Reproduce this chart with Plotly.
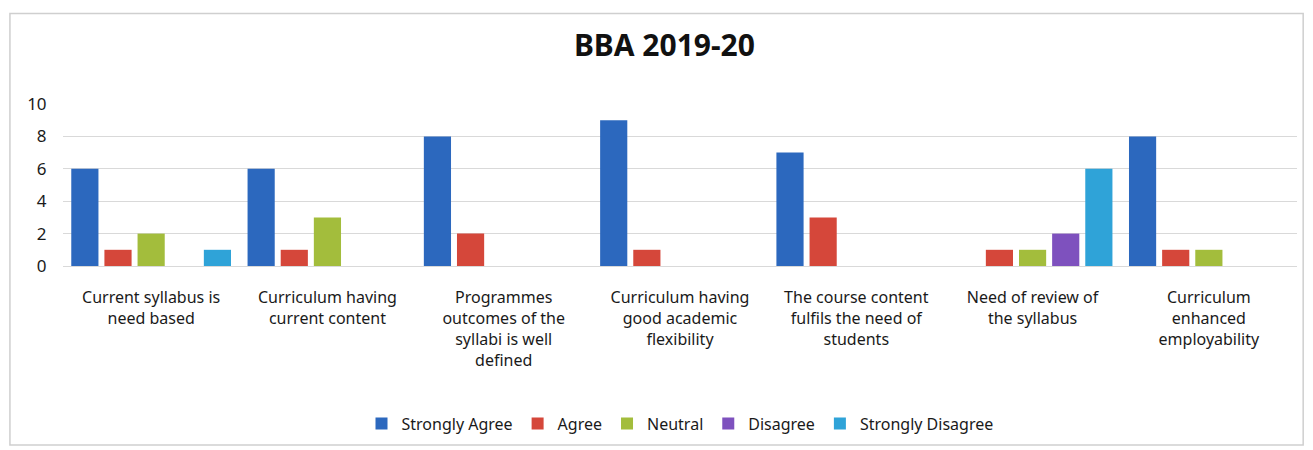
import plotly.graph_objects as go

categories = [
    "Current syllabus is<br>need based",
    "Curriculum having<br>current content",
    "Programmes<br>outcomes of the<br>syllabi is well<br>defined",
    "Curriculum having<br>good academic<br>flexibility",
    "The course content<br>fulfils the need of<br>students",
    "Need of review of<br>the syllabus",
    "Curriculum<br>enhanced<br>employability",
]
strongly_agree = [6, 6, 8, 9, 7, 0, 8]
agree = [1, 1, 2, 1, 3, 1, 1]
neutral = [2, 3, 0, 0, 0, 1, 1]
disagree = [0, 0, 0, 0, 0, 2, 0]
strongly_disagree = [1, 0, 0, 0, 0, 6, 0]

series = [
    ("Strongly Agree", strongly_agree, "#2C68BE"),
    ("Agree", agree, "#D5473A"),
    ("Neutral", neutral, "#A3BD3C"),
    ("Disagree", disagree, "#7E51BE"),
    ("Strongly Disagree", strongly_disagree, "#2FA3D8"),
]

font = "Noto Sans"

fig = go.Figure()
for name, vals, color in series:
    fig.add_trace(go.Bar(
        x=categories, y=vals, name=name,
        marker=dict(color=color, line=dict(width=0)),
    ))

# page body has an 8px margin, so the figure is drawn 8px smaller
fig.update_layout(
    width=1305, height=442,
    margin=dict(l=55, r=16, t=96, b=183),
    barmode='group', bargap=0.06, bargroupgap=0.18,
    paper_bgcolor='white', plot_bgcolor='white',
    font=dict(family=font, size=15, color='#1a1a1a'),
    title=dict(text="<b>BBA 2019-20</b>", x=0.503, xanchor='center',
               y=0.915, yanchor='middle', font=dict(size=30, color='#111')),
    legend=dict(orientation='h', x=0.5, xanchor='center', y=-0.96, yanchor='middle',
                font=dict(size=16), itemwidth=30, traceorder='normal'),
    xaxis=dict(showgrid=False, showline=True, linecolor='#d9d9d9', tickfont=dict(size=16),
               ticks='', ticklabelstandoff=17),
    yaxis=dict(range=[0, 10], dtick=2, showgrid=True, gridcolor='#d9d9d9',
               zeroline=False, tickfont=dict(size=17), ticklen=12, ticks='outside',
               tickcolor='white'),
)

fig.add_shape(type='rect', xref='paper', yref='paper',
              x0=-0.043, x1=1.005, y0=-1.105, y1=1.558,
              line=dict(color='#cfcfcf', width=1.5))

fig.write_html("out.html")
